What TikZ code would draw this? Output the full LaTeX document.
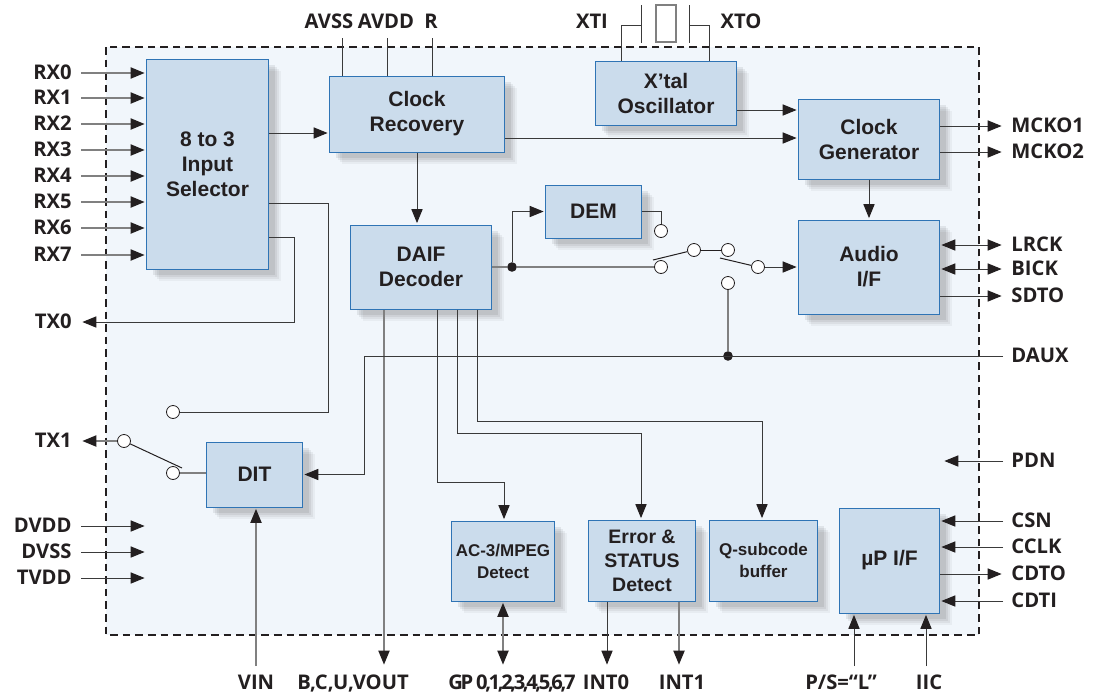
\documentclass[tikz,border=0pt]{standalone}
\usepackage{fontspec}
\setmainfont{Liberation Sans}
\newfontfamily\pinfont{Open Sans}
\usetikzlibrary{arrows.meta, shadows, calc}

\definecolor{ink}{HTML}{231F20}
\definecolor{wirec}{HTML}{3A3A3A}
\definecolor{wireg}{HTML}{808080}
\definecolor{blockfill}{HTML}{CBDCEC}
\definecolor{blockline}{HTML}{2F74B5}
\definecolor{chipfill}{HTML}{F1F6FB}

\tikzset{
    block/.style={draw=blockline, line width=0.5pt, fill=blockfill, text=ink, align=center,
        font=\fontsize{10.5}{12.5}\selectfont\bfseries, inner sep=0pt,
        drop shadow={shadow xshift=6pt, shadow yshift=-6pt, opacity=0.04, fill=black},
        drop shadow={shadow xshift=5pt, shadow yshift=-5pt, opacity=0.05, fill=black},
        drop shadow={shadow xshift=4pt, shadow yshift=-4pt, opacity=0.06, fill=black},
        drop shadow={shadow xshift=3pt, shadow yshift=-3pt, opacity=0.07, fill=black}},
    small/.style={font=\fontsize{8.5}{11}\selectfont\bfseries},
    middle/.style={font=\fontsize{9.75}{12}\selectfont\bfseries},
    pin/.style={font=\pinfont\fontsize{10.1}{12}\selectfont\bfseries, text=ink, inner ysep=0pt,
        text height=7.5pt, text depth=1.5pt},
    pinl/.style={pin, anchor=east, inner xsep=4.5pt},
    pinr/.style={pin, anchor=west, inner xsep=4pt},
    pinb/.style={pin, anchor=north, inner xsep=0pt, inner ysep=4pt},
    pad/.style={circle, draw=ink, line width=0.4pt, fill=white, inner sep=0pt, minimum size=6.5pt},
    dot/.style={circle, fill=ink, inner sep=0pt, minimum size=4.8pt},
    wire/.style={draw=wirec, line width=0.5pt},
    wirethick/.style={draw=wireg, line width=0.75pt},
    lever/.style={draw=ink, line width=0.5pt}
}

\begin{document}
\begin{tikzpicture}[x=0.5pt, y=-0.5pt, >={Triangle[length=7pt, width=5.6pt, sep=0.7pt, color=ink]}]
    \useasboundingbox (0,0) rectangle (1100,697);
    \fill[white] (0,0) rectangle (1100,697);

    % chip outline
    \draw[fill=chipfill, draw=ink, line width=1.2pt, dash pattern=on 3.8pt off 2.5pt] (106,47) rectangle (979,635);

    % blocks
    \node[block, minimum width=61pt, minimum height=105pt] (sel) at (207.5,164) {8 to 3\\Input\\Selector};
    \node[block, minimum width=87.5pt, minimum height=38pt] (rec) at (417,114) {Clock\\Recovery};
    \node[block, minimum width=70.5pt, minimum height=32pt] (osc) at (666,93) {X’tal\\Oscillator};
    \node[block, minimum width=70.5pt, minimum height=40pt] (gen) at (869,139) {Clock\\Generator};
    \node[block, minimum width=48pt, minimum height=26.5pt] (dem) at (593.5,211.5) {DEM};
    \node[block, minimum width=70.5pt, minimum height=42pt] (daif) at (421,267) {DAIF\\Decoder};
    \node[block, minimum width=70.5pt, minimum height=47pt] (audio) at (869,267) {Audio\\I/F};
    \node[block, minimum width=48pt, minimum height=32.5pt] (dit) at (254.5,474.5) {DIT};
    \node[block, small, minimum width=51.5pt, minimum height=40pt] (ac3) at (503,561) {AC-3/MPEG\\Detect};
    \node[block, middle, minimum width=53.5pt, minimum height=40.5pt] (err) at (642,560.5) {Error \&\\STATUS\\Detect};
    \node[block, small, minimum width=54pt, minimum height=40.5pt] (qsub) at (763.5,560.5) {Q-subcode\\buffer};
    \node[block, minimum width=50pt, minimum height=52.5pt] (upif) at (889.5,560.5) {µP I/F};

    % left pins
    \foreach \n/\y [count=\i from 0] in {rxa/73, rxb/98, rxc/124, rxd/150, rxe/176, rxf/202, rxg/228, rxh/255} {
        \node[pinl] (\n) at (81,\y) {RX\i};
        \draw[wirethick, ->] (\n) -- (\n -| sel.west);
    }
    \node[pinl] (txa) at (81,322) {TX0};
    \node[pinl] (txb) at (81,441) {TX1};
    \foreach \n/\t/\y in {dvdd/DVDD/526, dvss/DVSS/552, tvdd/TVDD/578} {
        \node[pinl] (\n) at (81,\y) {\t};
        \coordinate (\n p) at (146,\y);
        \draw[wire, ->] (\n) -- (\n p);
    }

    % right pins
    \node[pinr] (mcka) at (1003,126) {MCKO1};
    \node[pinr] (mckb) at (1003,152) {MCKO2};
    \node[pinr] (lrck) at (1003,245) {LRCK};
    \node[pinr] (bick) at (1003,269) {BICK};
    \node[pinr] (sdto) at (1003,296) {SDTO};
    \node[pinr] (daux) at (1003,356) {DAUX};
    \node[pinr] (pdn) at (1003,461) {PDN};
    \node[pinr] (csn) at (1003,521) {CSN};
    \node[pinr] (cclk) at (1003,547) {CCLK};
    \node[pinr] (cdto) at (1003,574) {CDTO};
    \node[pinr] (cdti) at (1003,601) {CDTI};
    \draw[wire, ->] (mcka -| gen.east) -- (mcka);
    \draw[wire, ->] (mckb -| gen.east) -- (mckb);
    \draw[wire, <->] (lrck -| audio.east) -- (lrck);
    \draw[wire, <->] (bick -| audio.east) -- (bick);
    \draw[wire, ->] (sdto -| audio.east) -- (sdto);
    \draw[wire, ->] (csn) -- (csn -| upif.east);
    \draw[wire, ->] (cclk) -- (cclk -| upif.east);
    \draw[wire, ->] (cdto -| upif.east) -- (cdto);
    \draw[wire, ->] (cdti) -- (cdti -| upif.east);
    \coordinate (pdnp) at (943,461);
    \draw[wire, ->] (pdn) -- (pdnp);

    % bottom pins
    \node[pinb] (vin) at (256,666) {VIN};
    \node[pinb] (vout) at (353,666) {B,C,U,VOUT};
    \node[pinb] (gp) at (512,666) {\addfontfeature{LetterSpace=-12}GP 0,1,2,3,4,5,6,7};
    \node[pinb] (inta) at (606,666) {INT0};
    \node[pinb] (intb) at (682,666) {INT1};
    \node[pinb] (ps) at (841,666) {P/S=“L”};
    \node[pinb] (iic) at (929,666) {IIC};
    \draw[wirethick, ->] (vin.north) -- (dit.south -| vin.north);
    \draw[wirethick, ->] (daif.south -| 384,0) -- (vout.north -| 384,0);
    \draw[wirethick, <->] (ac3.south) -- (gp.north -| ac3.south);
    \draw[wire, ->] (err.south -| 607,0) -- (inta.north -| 607,0);
    \draw[wirethick, ->] (err.south -| 679,0) -- (intb.north -| 679,0);
    \draw[wire, ->] (ps.north -| 854,0) -- (upif.south -| 854,0);
    \draw[wire, ->] (iic.north -| 926,0) -- (upif.south -| 926,0);

    % top pins
    \node[pin] (avss) at (329,22) {AVSS};
    \node[pin] (avdd) at (386,22) {AVDD};
    \node[pin] (rpin) at (431,22) {R};
    \node[pin] (xti) at (592,22) {XTI};
    \node[pin] (xto) at (741,22) {XTO};
    \foreach \x in {342,387,432} {
        \draw[wire] (rec.north -| \x,0) -- (\x,38);
    }

    % crystal
    \coordinate (xa) at (641,25);
    \coordinate (xb) at (689,25);
    \draw[wire] (osc.north -| 621,0) |- (xa);
    \draw[wire] (osc.north -| 709,0) |- (xb);
    \draw[wire] (641,5) -- (641,43);
    \draw[wire] (689,5) -- (689,43);
    \draw[wirethick] (656,5) rectangle (676,42);

    % clocks
    \draw[wire, ->] (sel.east |- 0,133) -- (rec.west |- 0,133);
    \draw[wire, ->] (rec.east |- 0,138) -- (gen.west |- 0,138);
    \draw[wire, ->] (osc.east |- 0,110) -- (gen.west |- 0,110);
    \draw[wire, ->] (rec.south) -- (rec.south |- daif.north);
    \draw[wire, ->] (gen.south) -- (audio.north);

    % switch to audio i/f
    \node[dot] (split) at (512,267) {};
    \node[pad] (swa) at (661,267) {};
    \node[pad] (swb) at (661,231) {};
    \node[pad] (swc) at (694,250) {};
    \node[pad] (swd) at (728,250) {};
    \node[pad] (swe) at (758,267) {};
    \node[pad] (swf) at (728,283) {};
    \node[dot] (join) at (728,356) {};
    \coordinate (lva) at (653,260);
    \coordinate (lvb) at (720,258);
    \draw[wirethick] (daif.east |- split) -- (split) -- (swa);
    \draw[wire, ->] (split) |- (dem.west);
    \draw[wire] (dem.east) -| (swb);
    \draw[lever] (lva) -- (swc);
    \draw[lever] (swc) -- (swd);
    \draw[lever] (lvb) -- (swe);
    \draw[wire, ->] (swe) -- (audio.west |- swe);
    \draw[wirethick] (swf) -- (join);

    % daux to dit
    \draw[wire, ->] (daux) -- (364,356) |- (dit.east);

    % decoder outputs
    \draw[wire, ->] (daif.south -| 437,0) |- (504,482) -- (ac3.north -| 504,0);
    \draw[wire, ->] (daif.south -| 457,0) |- (641,433) -- (err.north -| 641,0);
    \draw[wire, ->] (daif.south -| 477,0) |- (762,421) -- (qsub.north -| 762,0);

    % selector outputs
    \node[pad] (swg) at (173,412) {};
    \node[pad] (swh) at (124,441) {};
    \node[pad] (swi) at (173,473) {};
    \coordinate (lvc) at (182,468);
    \draw[wire, ->] (sel.east |- 0,237) -- (294,237) |- (txa);
    \draw[wire] (sel.east |- 0,203) -- (328,203) |- (swg);
    \draw[wirethick, ->] (swh) -- (txb);
    \draw[lever] (swh) -- (lvc);
    \draw[wirethick] (swi) -- (dit.west |- swi);
\end{tikzpicture}
\end{document}
